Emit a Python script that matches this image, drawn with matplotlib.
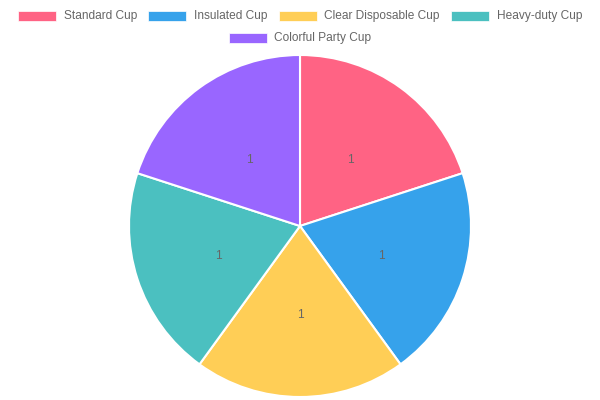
import matplotlib.pyplot as plt
from matplotlib.patches import Rectangle

labels = ['Standard Cup', 'Insulated Cup', 'Clear Disposable Cup', 'Heavy-duty Cup', 'Colorful Party Cup']
values = [1, 1, 1, 1, 1]
colors = ['#FF6384', '#36A2EB', '#FFCE56', '#4BC0C0', '#9966FF']

W, H = 600, 400
plt.rcParams['font.family'] = ['Liberation Sans', 'DejaVu Sans']

fig = plt.figure(figsize=(6, 4), dpi=100)

# pie area: center (300, 226), radius 171 px
cx, cy, r = 300, 226, 171
ax = fig.add_axes([(cx - r) / W, (H - cy - r) / H, 2 * r / W, 2 * r / H])
total = sum(values)
wedges, _, autotexts = ax.pie(
    values, colors=colors, startangle=90, counterclock=False, radius=1,
    autopct=lambda p: f'{p * total / 100:.0f}', pctdistance=0.5,
    wedgeprops=dict(edgecolor='white', linewidth=1.5),
    textprops=dict(color='#666666', fontsize=8.6))
for t in autotexts:
    x, y = t.get_position()
    t.set_position((x, y - 0.02))
ax.set_xlim(-1, 1)
ax.set_ylim(-1, 1)
ax.set_aspect('equal')
ax.axis('off')

# legend drawn by hand: (box left, text left) in px, two centered rows
rows = [
    [(18, 64), (148, 194), (279, 324), (451, 497)],
    [(229, 274)],
]
row_y = [16, 38]
k = 0
for ri, row in enumerate(rows):
    for bx, tx in row:
        y = row_y[ri]
        fig.patches.append(Rectangle((bx / W, (H - y - 5) / H), 38 / W, 10 / H,
                                     transform=fig.transFigure, facecolor=colors[k],
                                     edgecolor='white', linewidth=0.5))
        fig.text(tx / W, (H - y) / H, labels[k], color='#666666', fontsize=8.6,
                 ha='left', va='center')
        k += 1

fig.savefig('out.png', dpi=100)
